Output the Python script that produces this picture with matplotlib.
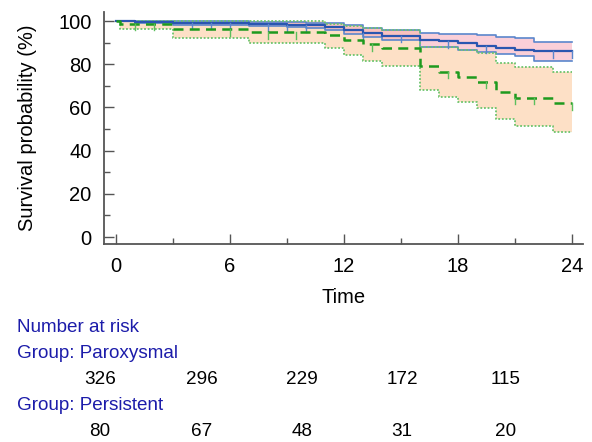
import numpy as np
import matplotlib.pyplot as plt

plt.rcParams['font.family'] = ['Liberation Sans', 'DejaVu Sans']

# Paroxysmal group (blue)
par_t = [0, 1, 3, 7, 9, 10, 11, 12, 13, 14, 16, 17, 18, 19, 20, 21, 22]
par_s = [100, 99.6, 99.2, 98.6, 98.3, 98.0, 97.4, 95.8, 94.5, 93.3, 91.2, 90.6, 89.8, 88.3, 87.3, 86.8, 86.0]
par_hi = [100, 100, 99.9, 99.6, 99.4, 99.2, 98.9, 98.0, 97.0, 95.9, 94.5, 94.2, 94.2, 93.5, 92.7, 92.0, 90.4]
par_lo = [100, 99.0, 98.4, 97.6, 97.2, 96.8, 95.8, 94.2, 92.7, 91.2, 88.2, 88.0, 86.6, 85.8, 84.7, 83.8, 81.5]
par_cens = [4, 5, 6, 8, 9, 10, 13, 15, 17.5, 19.5, 23, 24]

# Persistent group (green)
per_t = [0, 0.2, 3, 7, 11, 12, 13, 14, 16, 17, 18, 19, 20, 21, 23]
per_s = [100, 98.7, 96.2, 94.9, 93.5, 91.3, 89.3, 87.5, 79.0, 76.5, 74.2, 72.0, 67.3, 64.5, 62.0]
per_hi = [100, 100, 100, 100, 98.8, 97.8, 96.8, 95.8, 88.0, 88.0, 86.6, 85.0, 80.5, 78.5, 76.2]
per_lo = [100, 96.4, 92.0, 89.7, 87.5, 84.5, 81.7, 79.3, 68.0, 65.0, 62.6, 59.7, 54.6, 51.4, 48.5]
per_cens = [1, 2, 6, 8, 9.5, 13.5, 17.5, 19.5, 21, 22, 24]

risk_times = [0, 6, 12, 18, 24]
risk_par = [326, 296, 229, 172, 115]
risk_per = [80, 67, 48, 31, 20]

T_END = 24


def ext(t, v):
    return np.array(t + [T_END]), np.array(v + [v[-1]])


def value_at(t, s, x):
    idx = np.searchsorted(t, x, side='right') - 1
    return np.array(s)[idx]


fig = plt.figure(figsize=(5.92, 4.42), dpi=100)
ax = fig.add_axes([104 / 592, 1 - 244 / 442, (583 - 104) / 592, (244 - 12) / 442])

# confidence bands
tx, lo = ext(per_t, per_lo)
_, hi = ext(per_t, per_hi)
ax.fill_between(tx, lo, hi, step='post', color='#fde0c6', lw=0, zorder=1)
tx, lo2 = ext(par_t, par_lo)
_, hi2 = ext(par_t, par_hi)
ax.fill_between(tx, lo2, hi2, step='post', color='#f7a8b8', alpha=0.55, lw=0, zorder=2)

# CI lines
tx, v = ext(par_t, par_hi)
ax.step(tx, v, where='post', color='#5b86cc', lw=1.2, zorder=3)
tx, v = ext(par_t, par_lo)
ax.step(tx, v, where='post', color='#5b86cc', lw=1.2, zorder=3)
tx, v = ext(per_t, per_hi)
ax.step(tx, v, where='post', color='#6cc46c', lw=1.3, ls=(0, (1, 1)), zorder=4)
tx, v = ext(per_t, per_lo)
ax.step(tx, v, where='post', color='#6cc46c', lw=1.3, ls=(0, (1, 1)), zorder=4)

# survival curves
tx, v = ext(par_t, par_s)
ax.step(tx, v, where='post', color='#2a56b0', lw=1.6, zorder=5)
tx, v = ext(per_t, per_s)
ax.step(tx, v, where='post', color='#1e9a1e', lw=1.8, ls=(0, (4, 2.5)), zorder=6)

# censor marks
for c in par_cens:
    y = value_at(par_t, par_s, c)
    ax.plot([c, c], [y, y - 3], color='#5b86cc', lw=1, zorder=5)
for c in per_cens:
    y = value_at(per_t, per_s, c)
    ax.plot([c, c], [y, y - 3], color='#5cbf5c', lw=1, zorder=6)

ax.set_xlim(-0.63, 24.58)
ax.set_ylim(-3.24, 104.2)
ax.set_xticks(risk_times)
ax.set_xticks([3, 9, 15, 21], minor=True)
ax.set_yticks([0, 20, 40, 60, 80, 100])
ax.set_yticks([10, 30, 50, 70, 90], minor=True)
for s in ['top', 'right']:
    ax.spines[s].set_visible(False)
for s in ['left', 'bottom']:
    ax.spines[s].set_color('#555555')
    ax.spines[s].set_linewidth(1.3)
ax.tick_params(which='major', direction='in', length=7, width=1, color='#555555',
               labelsize=14.5, pad=9)
ax.tick_params(which='minor', direction='in', length=4, width=1, color='#555555')
ax.set_xlabel('Time', fontsize=14.5, labelpad=9)
ax.set_ylabel('Survival probability (%)', fontsize=14.5, labelpad=15)

# number at risk table
blue = '#1c1caa'
fs = 13.6
fig.text(17 / 592, 1 - 327 / 442, 'Number at risk', color=blue, fontsize=fs, va='center')
fig.text(17 / 592, 1 - 353 / 442, 'Group: Paroxysmal', color=blue, fontsize=fs, va='center')
fig.text(17 / 592, 1 - 405 / 442, 'Group: Persistent', color=blue, fontsize=fs, va='center')
xs = [100, 202, 302, 402, 506]
for x, a, b in zip(xs, risk_par, risk_per):
    fig.text(x / 592, 1 - 380 / 442, str(a), fontsize=fs, ha='center', va='center')
    fig.text(x / 592, 1 - 431 / 442, str(b), fontsize=fs, ha='center', va='center')

fig.savefig('out.png', dpi=100)
